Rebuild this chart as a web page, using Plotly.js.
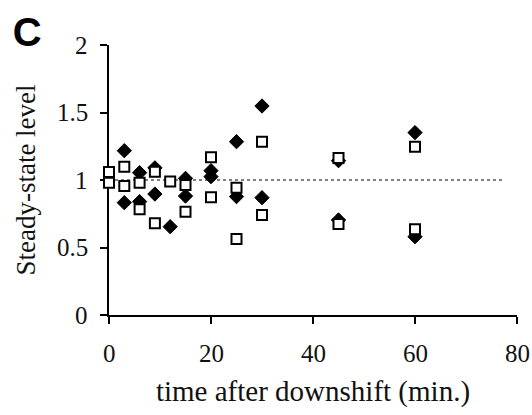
<!DOCTYPE html>
<html>
<head>
<meta charset="utf-8">
<script src="https://cdn.plot.ly/plotly-3.0.1.min.js"></script>
<style>html,body{margin:0;padding:0;background:#fff;}#chart{width:532px;height:415px;}</style>
</head>
<body>
<div id="chart"></div>
<script>
// Time points (min.) and steady-state levels
const diamondX = [3, 3, 6, 6, 9, 9, 12, 15, 15, 20, 20, 25, 25, 30, 30, 45, 45, 60, 60];
const diamondY = [1.217, 0.832, 1.054, 0.84, 1.09, 0.896, 0.654, 1.012, 0.881, 1.069, 1.025, 1.284, 0.877, 1.548, 0.869, 1.143, 0.704, 1.351, 0.58];
const squareX = [0, 0, 3, 3, 6, 6, 9, 9, 12, 15, 15, 20, 20, 25, 25, 30, 30, 45, 45, 60, 60];
const squareY = [1.06, 0.98, 1.099, 0.956, 0.98, 0.783, 1.062, 0.679, 0.988, 0.963, 0.765, 1.168, 0.872, 0.943, 0.563, 1.284, 0.741, 1.163, 0.674, 1.247, 0.635];
const refLineX = [0, 77.6];
const refLineY = [1, 1];
const xTicks = [0, 20, 40, 60, 80];
const xTickLabels = ['0', '20', '40', '60', '80'];
const yTicks = [0, 0.5, 1, 1.5, 2];
const yTickLabels = ['0', '0.5', '1', '1.5', '2'];

const serif = 'Liberation Serif';
const tickFont = {family: serif, size: 25, color: '#111'};

const data = [
  {x: refLineX, y: refLineY, mode: 'lines', line: {color: '#000', width: 1, dash: 'dot'}, hoverinfo: 'skip', showlegend: false},
  {x: diamondX, y: diamondY, mode: 'markers', cliponaxis: false,
   marker: {symbol: 'diamond', size: 11, color: '#000', line: {color: '#000', width: 1}}, showlegend: false},
  {x: squareX, y: squareY, mode: 'markers', cliponaxis: false,
   marker: {symbol: 'square', size: 10, color: '#fff', line: {color: '#000', width: 2}}, showlegend: false}
];

// Tick labels placed through the axes' own scales (value on the axis, fixed offset from the axis line)
const tickAnnotations = []
  .concat(xTicks.map((v, i) => ({
    text: xTickLabels[i], xref: 'x', yref: 'paper', x: v, y: 0,
    xanchor: 'center', yanchor: 'middle', yshift: -38, showarrow: false, font: tickFont
  })))
  .concat(yTicks.map((v, i) => ({
    text: yTickLabels[i], xref: 'paper', yref: 'y', x: 0, y: v,
    xanchor: 'right', yanchor: 'middle', xshift: -19, showarrow: false, font: tickFont
  })));

const layout = {
  width: 532, height: 415,
  margin: {l: 108.5, r: 15, t: 45, b: 100},
  font: {family: serif, color: '#111', size: 25},
  title: {text: '<b>C</b>', x: 0.051, xanchor: 'center', y: 0.923, yanchor: 'middle',
          font: {family: 'Liberation Sans', size: 40, color: '#000'}},
  xaxis: {
    range: [0, 80], tickmode: 'array', tickvals: xTicks, showticklabels: false,
    showline: true, linecolor: '#000', linewidth: 2, showgrid: false, zeroline: false,
    ticks: 'outside', ticklen: 7, tickwidth: 2, tickcolor: '#000',
    layer: 'below traces', automargin: false,
    title: {text: 'time after downshift (min.)', font: {family: serif, size: 29, color: '#111'}, standoff: 58}
  },
  yaxis: {
    range: [0, 2], tickmode: 'array', tickvals: yTicks, showticklabels: false,
    showline: true, linecolor: '#000', linewidth: 2, showgrid: false, zeroline: false,
    ticks: 'outside', ticklen: 7, tickwidth: 2, tickcolor: '#000',
    layer: 'below traces', automargin: false,
    title: {text: 'Steady-state level', font: {family: serif, size: 27, color: '#111'}, standoff: 57}
  },
  annotations: tickAnnotations,
  showlegend: false
};

Plotly.newPlot('chart', data, layout, {displayModeBar: false, staticPlot: true});
</script>
</body>
</html>
